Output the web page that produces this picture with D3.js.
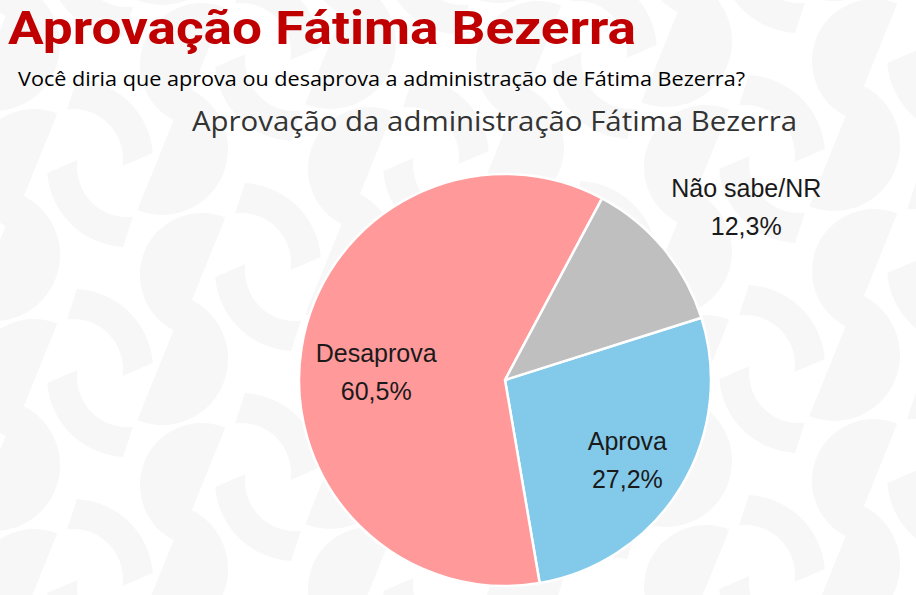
<!DOCTYPE html>
<html>
<head>
<meta charset="utf-8">
<script src="https://cdn.jsdelivr.net/npm/d3@7"></script>
<style>
  html, body { margin: 0; padding: 0; background: #ffffff; }
  svg { display: block; }
</style>
</head>
<body>
<svg id="chart" width="916" height="595"></svg>
<script>
// ---------- data ----------
const categories = ["Aprova", "Desaprova", "Não sabe/NR"];
const values = [27.2, 60.5, 12.3];
const valueLabels = ["27,2%", "60,5%", "12,3%"];
const pageTitle = "Aprovação Fátima Bezerra";
const question = "Você diria que aprova ou desaprova a administração de Fátima Bezerra?";
const chartTitle = "Aprovação da administração Fátima Bezerra";

// ---------- layout / style ----------
const W = 916, H = 595;
const colors = ["#83CAEA", "#FF999A", "#BFBFBF"];
const cx = 505, cy = 380, R = 206;
const startDeg = 72.4;
// label placement relative to slice mid-angle (degrees tweak, radius)
const labelPlace = [
  { tweak: -1.6, r: 141 },
  { tweak: -1.4, r: 130 },
  { tweak: 2.5, r: 303 }
];

const svg = d3.select("#chart");
svg.append("rect").attr("width", W).attr("height", H).attr("fill", "#ffffff");

// ---------- faint background watermark pattern ----------
const bg = svg.append("g").attr("fill", "#f7f7f7");
const rad = d => d * Math.PI / 180;
function ringSeg(x, y, r0, r1, oS, oE, iS, iE) {
  const p = d3.path();
  p.moveTo(x + r1 * Math.cos(rad(oS)), y + r1 * Math.sin(rad(oS)));
  p.arc(x, y, r1, rad(oS), rad(oE), false);
  p.lineTo(x + r0 * Math.cos(rad(iE)), y + r0 * Math.sin(rad(iE)));
  p.arc(x, y, r0, rad(iE), rad(iS), true);
  p.closePath();
  return p.toString();
}
function halfDisc(x, y, r, dirDeg) {
  const p = d3.path();
  p.moveTo(x + r * Math.cos(rad(dirDeg)), y + r * Math.sin(rad(dirDeg)));
  p.arc(x, y, r, rad(dirDeg), rad(dirDeg + 180), false);
  p.closePath();
  return p.toString();
}
for (let i = -2; i <= 7; i++) {
  for (let j = -6; j <= 8; j++) {
    const ux = 127 + 168 * i, uy = 167 + 104 * i + 210 * j;
    if (ux < -250 || ux > W + 250 || uy < -250 || uy > H + 250) continue;
    bg.append("path").attr("d", ringSeg(ux, uy, 50, 80, 92.8, 175.7, 83.3, 188));
    bg.append("path").attr("d", ringSeg(ux - 54, uy + 202, 50, 80, 272.8, 355.7, 263.3, 368));
    bg.append("path").attr("d", halfDisc(ux + 35, uy - 18, 66, -68));
    bg.append("path").attr("d", halfDisc(ux + 75, uy + 108, 62, 112));
  }
}

// ---------- titles ----------
svg.append("text")
  .attr("x", 8).attr("y", 43.5)
  .attr("font-family", "Roboto, 'Liberation Sans', sans-serif")
  .attr("font-weight", 700)
  .attr("font-size", 46)
  .attr("fill", "#C00000")
  .attr("textLength", 628).attr("lengthAdjust", "spacingAndGlyphs")
  .text(pageTitle);

svg.append("text")
  .attr("x", 18).attr("y", 86)
  .attr("font-family", "'Open Sans', 'Noto Sans', sans-serif")
  .attr("font-size", 20)
  .attr("fill", "#000000")
  .attr("textLength", 727).attr("lengthAdjust", "spacingAndGlyphs")
  .text(question);

svg.append("text")
  .attr("x", 494.5).attr("y", 131)
  .attr("text-anchor", "middle")
  .attr("font-family", "'Open Sans', 'Noto Sans', sans-serif")
  .attr("font-size", 27)
  .attr("fill", "#333333")
  .attr("textLength", 605).attr("lengthAdjust", "spacingAndGlyphs")
  .text(chartTitle);

// ---------- pie ----------
const data = categories.map((c, i) => ({ cat: c, value: values[i], label: valueLabels[i], color: colors[i], place: labelPlace[i] }));
const pie = d3.pie().sort(null).value(d => d.value)
  .startAngle(rad(startDeg)).endAngle(rad(startDeg) + 2 * Math.PI);
const arc = d3.arc().innerRadius(0).outerRadius(R);
const arcs = pie(data);

const g = svg.append("g").attr("transform", `translate(${cx},${cy})`);
g.selectAll("path.slice").data(arcs).join("path")
  .attr("class", "slice")
  .attr("d", arc)
  .attr("fill", d => d.data.color)
  .attr("stroke", "#ffffff")
  .attr("stroke-width", 2.5)
  .attr("stroke-linejoin", "round");

const lab = g.selectAll("g.lab").data(arcs).join("g").attr("class", "lab")
  .attr("transform", d => {
    const a = (d.startAngle + d.endAngle) / 2 + rad(d.data.place.tweak);
    const r = d.data.place.r;
    return `translate(${r * Math.sin(a)},${-r * Math.cos(a)})`;
  });
lab.append("text")
  .attr("text-anchor", "middle")
  .attr("font-family", "'Liberation Sans', Arial, sans-serif")
  .attr("font-size", 25)
  .attr("fill", "#1a1a1a")
  .text(d => d.data.cat);
lab.append("text")
  .attr("text-anchor", "middle")
  .attr("y", 38)
  .attr("font-family", "'Liberation Sans', Arial, sans-serif")
  .attr("font-size", 25)
  .attr("fill", "#1a1a1a")
  .text(d => d.data.label);
</script>
</body>
</html>
